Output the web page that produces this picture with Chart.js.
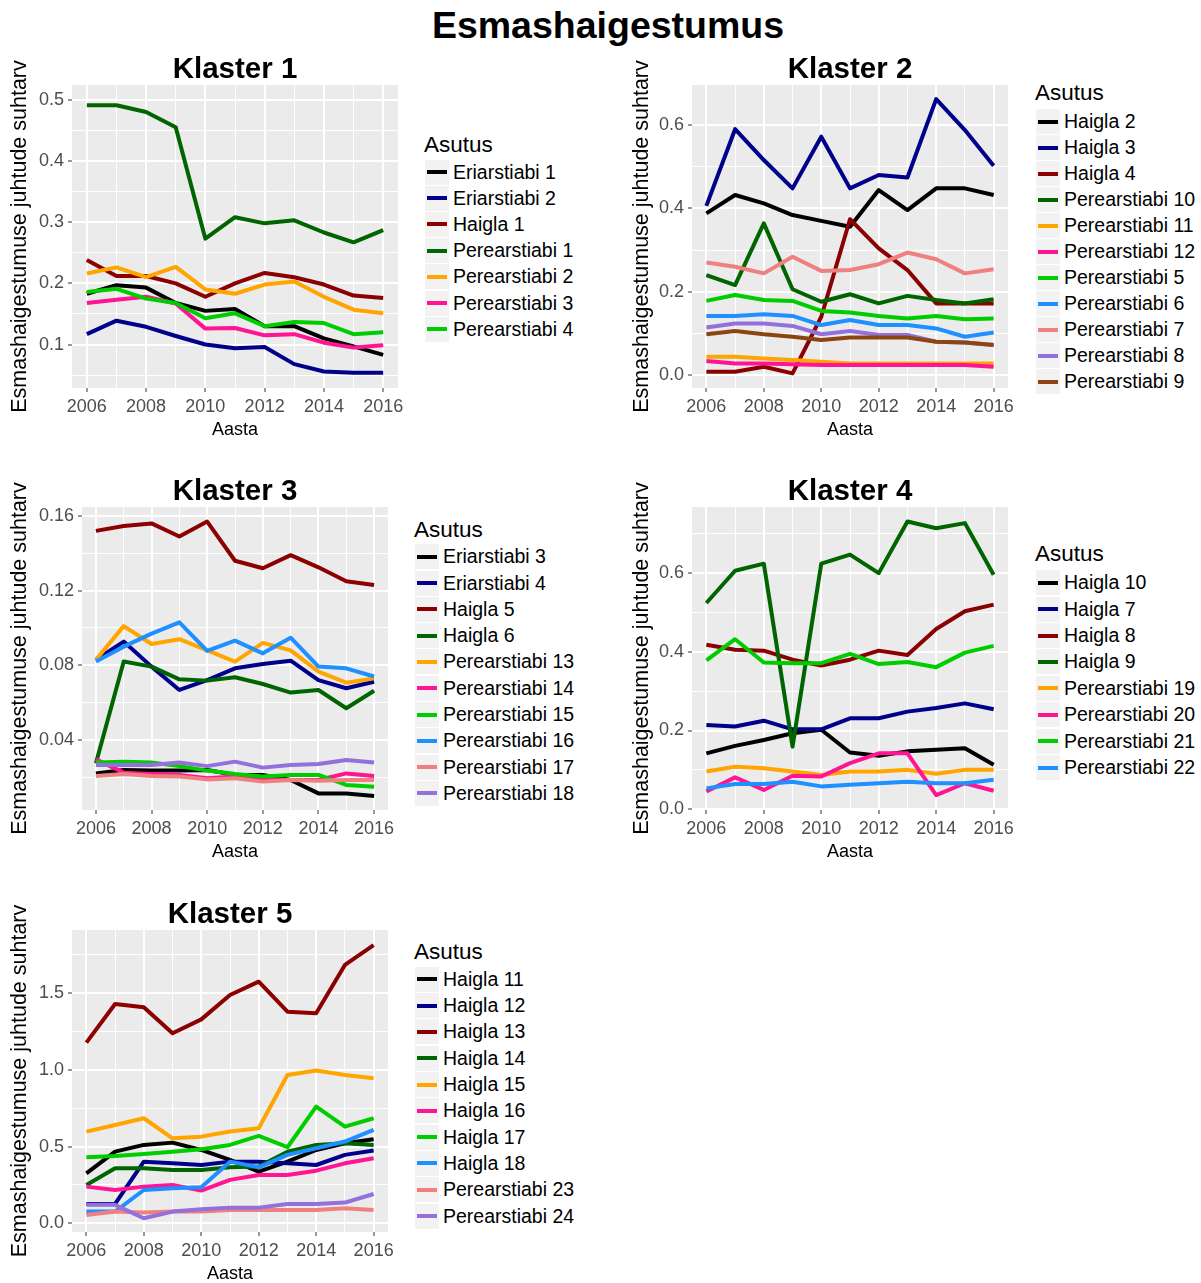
<!DOCTYPE html>
<html>
<head>
<meta charset="utf-8">
<title>Esmashaigestumus</title>
<script src="https://cdn.jsdelivr.net/npm/chart.js@4.4.1/dist/chart.umd.min.js"></script>
<style>
  body { margin: 0; background: #fff; font-family: "Liberation Sans", Arial, sans-serif; }
  #page { position: relative; width: 1201px; height: 1283px; overflow: hidden; }
  canvas { position: absolute; }
  .txt { position: absolute; white-space: nowrap; color: #000; }
  #mainTitle { font-size: 37.5px; font-weight: bold; line-height: 38px; top: 6px; left: 608px; transform: translateX(-50%); }
  .panelTitle { font-size: 29.5px; font-weight: bold; line-height: 29px; transform: translateX(-50%); }
  .legTitle { font-size: 22.5px; line-height: 28px; }
  .legItem { position: absolute; left: 0; display: flex; align-items: center; }
  .legKey { position: relative; width: 24px; height: 25px; background: #F2F2F2; margin-right: 4px; }
  .legKey span { position: absolute; left: 2px; right: 2px; top: 10.5px; height: 4px; }
  .legLabel { font-size: 19.5px; }
</style>
</head>
<body>
<div id="page">
  <div id="mainTitle" class="txt">Esmashaigestumus</div>
</div>
<script>
const years = [2006, 2007, 2008, 2009, 2010, 2011, 2012, 2013, 2014, 2015, 2016];

// Klaster 1
const k1Names = ['Eriarstiabi 1', 'Eriarstiabi 2', 'Haigla 1', 'Perearstiabi 1', 'Perearstiabi 2', 'Perearstiabi 3', 'Perearstiabi 4'];
const k1Values = [
    [0.183, 0.197, 0.193, 0.168, 0.155, 0.158, 0.130, 0.130, 0.110, 0.097, 0.083],
    [0.117, 0.139, 0.129, 0.114, 0.100, 0.094, 0.096, 0.068, 0.056, 0.054, 0.054],
    [0.238, 0.212, 0.212, 0.200, 0.178, 0.200, 0.217, 0.210, 0.198, 0.180, 0.176],
    [0.491, 0.491, 0.480, 0.455, 0.273, 0.308, 0.298, 0.303, 0.283, 0.267, 0.287],
    [0.216, 0.226, 0.210, 0.227, 0.190, 0.183, 0.198, 0.203, 0.178, 0.157, 0.151],
    [0.168, 0.173, 0.178, 0.167, 0.126, 0.127, 0.115, 0.117, 0.103, 0.095, 0.099],
    [0.186, 0.191, 0.175, 0.168, 0.143, 0.151, 0.130, 0.137, 0.135, 0.117, 0.120]
];

// Klaster 2
const k2Names = ['Haigla 2', 'Haigla 3', 'Haigla 4', 'Perearstiabi 10', 'Perearstiabi 11', 'Perearstiabi 12', 'Perearstiabi 5', 'Perearstiabi 6', 'Perearstiabi 7', 'Perearstiabi 8', 'Perearstiabi 9'];
const k2Values = [
    [0.388, 0.432, 0.412, 0.384, 0.370, 0.356, 0.444, 0.396, 0.448, 0.448, 0.432],
    [0.406, 0.590, 0.516, 0.448, 0.572, 0.448, 0.480, 0.474, 0.662, 0.588, 0.502],
    [0.008, 0.008, 0.020, 0.004, 0.140, 0.374, 0.304, 0.252, 0.172, 0.172, 0.172],
    [0.240, 0.216, 0.364, 0.206, 0.176, 0.194, 0.172, 0.190, 0.180, 0.172, 0.182],
    [0.044, 0.044, 0.040, 0.036, 0.032, 0.028, 0.028, 0.028, 0.028, 0.028, 0.028],
    [0.034, 0.028, 0.028, 0.026, 0.024, 0.024, 0.024, 0.024, 0.024, 0.024, 0.020],
    [0.178, 0.192, 0.180, 0.178, 0.154, 0.150, 0.142, 0.136, 0.142, 0.134, 0.136],
    [0.142, 0.142, 0.146, 0.142, 0.120, 0.132, 0.120, 0.120, 0.112, 0.092, 0.102],
    [0.270, 0.260, 0.244, 0.284, 0.250, 0.252, 0.266, 0.294, 0.278, 0.244, 0.254],
    [0.114, 0.124, 0.124, 0.118, 0.098, 0.106, 0.096, 0.096, 0.080, 0.078, 0.072],
    [0.098, 0.106, 0.098, 0.092, 0.084, 0.090, 0.090, 0.090, 0.080, 0.078, 0.072]
];

// Klaster 3
const k3Names = ['Eriarstiabi 3', 'Eriarstiabi 4', 'Haigla 5', 'Haigla 6', 'Perearstiabi 13', 'Perearstiabi 14', 'Perearstiabi 15', 'Perearstiabi 16', 'Perearstiabi 17', 'Perearstiabi 18'];
const k3Values = [
    [0.0221, 0.0239, 0.0236, 0.0236, 0.0239, 0.0213, 0.0213, 0.0186, 0.0114, 0.0114, 0.0100],
    [0.0830, 0.0927, 0.0793, 0.0668, 0.0721, 0.0784, 0.0807, 0.0825, 0.0721, 0.0677, 0.0712],
    [0.1520, 0.1546, 0.1560, 0.1490, 0.1570, 0.1360, 0.1320, 0.1390, 0.1325, 0.1250, 0.1230],
    [0.0275, 0.0820, 0.0793, 0.0725, 0.0718, 0.0736, 0.0700, 0.0654, 0.0668, 0.0570, 0.0664],
    [0.0830, 0.1010, 0.0914, 0.0940, 0.0880, 0.0820, 0.0920, 0.0880, 0.0766, 0.0707, 0.0730],
    [0.0296, 0.0225, 0.0218, 0.0213, 0.0195, 0.0204, 0.0186, 0.0186, 0.0186, 0.0221, 0.0207],
    [0.0280, 0.0284, 0.0280, 0.0260, 0.0236, 0.0218, 0.0204, 0.0213, 0.0213, 0.0159, 0.0150],
    [0.0820, 0.0900, 0.0970, 0.1030, 0.0877, 0.0932, 0.0864, 0.0948, 0.0793, 0.0784, 0.0740],
    [0.0207, 0.0218, 0.0207, 0.0204, 0.0189, 0.0195, 0.0177, 0.0186, 0.0182, 0.0186, 0.0186],
    [0.0266, 0.0266, 0.0266, 0.0279, 0.0260, 0.0284, 0.0252, 0.0266, 0.0271, 0.0293, 0.0279]
];

// Klaster 4
const k4Names = ['Haigla 10', 'Haigla 7', 'Haigla 8', 'Haigla 9', 'Perearstiabi 19', 'Perearstiabi 20', 'Perearstiabi 21', 'Perearstiabi 22'];
const k4Values = [
    [0.142, 0.161, 0.176, 0.193, 0.202, 0.144, 0.136, 0.147, 0.151, 0.155, 0.113],
    [0.214, 0.210, 0.225, 0.203, 0.203, 0.231, 0.231, 0.248, 0.257, 0.269, 0.254],
    [0.418, 0.405, 0.403, 0.380, 0.365, 0.380, 0.403, 0.392, 0.458, 0.503, 0.520],
    [0.524, 0.606, 0.624, 0.159, 0.624, 0.647, 0.600, 0.731, 0.714, 0.727, 0.596],
    [0.096, 0.108, 0.104, 0.096, 0.087, 0.096, 0.096, 0.100, 0.090, 0.100, 0.100],
    [0.045, 0.081, 0.049, 0.085, 0.083, 0.117, 0.142, 0.142, 0.036, 0.066, 0.047],
    [0.378, 0.432, 0.373, 0.371, 0.371, 0.395, 0.369, 0.374, 0.361, 0.398, 0.415],
    [0.053, 0.064, 0.064, 0.070, 0.058, 0.062, 0.066, 0.070, 0.066, 0.066, 0.075]
];

// Klaster 5
const k5Names = ['Haigla 11', 'Haigla 12', 'Haigla 13', 'Haigla 14', 'Haigla 15', 'Haigla 16', 'Haigla 17', 'Haigla 18', 'Perearstiabi 23', 'Perearstiabi 24'];
const k5Values = [
    [0.326, 0.467, 0.511, 0.526, 0.478, 0.413, 0.337, 0.402, 0.478, 0.522, 0.548],
    [0.126, 0.126, 0.402, 0.391, 0.380, 0.402, 0.402, 0.391, 0.380, 0.446, 0.474],
    [1.178, 1.430, 1.409, 1.239, 1.330, 1.489, 1.576, 1.380, 1.370, 1.685, 1.815],
    [0.250, 0.359, 0.359, 0.348, 0.348, 0.365, 0.370, 0.467, 0.511, 0.522, 0.511],
    [0.598, 0.641, 0.685, 0.554, 0.565, 0.598, 0.620, 0.967, 0.996, 0.967, 0.946],
    [0.239, 0.217, 0.239, 0.250, 0.213, 0.283, 0.315, 0.315, 0.343, 0.391, 0.424],
    [0.430, 0.439, 0.452, 0.467, 0.483, 0.511, 0.570, 0.496, 0.761, 0.630, 0.685],
    [0.076, 0.076, 0.217, 0.228, 0.235, 0.402, 0.365, 0.446, 0.489, 0.533, 0.609],
    [0.054, 0.076, 0.070, 0.076, 0.076, 0.087, 0.087, 0.087, 0.087, 0.098, 0.087],
    [0.120, 0.120, 0.033, 0.076, 0.091, 0.102, 0.102, 0.126, 0.126, 0.135, 0.191]
];

const palette = ['#000000', '#00008B', '#8B0000', '#006400', '#FFA500', '#FF1493', '#00CD00', '#1E90FF', '#F08080', '#9370DB', '#8B4513'];

// plot box (L,T,R,B), canvas left, y range and tick steps, legend spot
const panels = [
    { title: 'Klaster 1', names: k1Names, values: k1Values, L: 72, T: 85, R: 398, B: 388, cLeft: 0,
      yMin: 0.029, yMax: 0.524, minor: 0.05, major: 0.1, dec: 1, legX: 425, legTitleY: 145, legFirstY: 172, legStep: 26.2 },
    { title: 'Klaster 2', names: k2Names, values: k2Values, L: 692, T: 85, R: 1008, B: 388, cLeft: 622,
      yMin: -0.031, yMax: 0.696, minor: 0.1, major: 0.2, dec: 1, legX: 1036, legTitleY: 93, legFirstY: 121.5, legStep: 26.0 },
    { title: 'Klaster 3', names: k3Names, values: k3Values, L: 82, T: 507, R: 388, B: 810, cLeft: 0,
      yMin: 0.0025, yMax: 0.1648, minor: 0.02, major: 0.04, dec: 2, legX: 415, legTitleY: 529.5, legFirstY: 556.7, legStep: 26.3 },
    { title: 'Klaster 4', names: k4Names, values: k4Values, L: 692, T: 507, R: 1008, B: 810, cLeft: 622,
      yMin: -0.002, yMax: 0.768, minor: 0.1, major: 0.2, dec: 1, legX: 1036, legTitleY: 554, legFirstY: 582.7, legStep: 26.4 },
    { title: 'Klaster 5', names: k5Names, values: k5Values, L: 72, T: 930, R: 388, B: 1232, cLeft: 0,
      yMin: -0.057, yMax: 1.913, minor: 0.25, major: 0.5, dec: 1, legX: 415, legTitleY: 951.5, legFirstY: 979.3, legStep: 26.3 }
];

Chart.defaults.font.family = '"Liberation Sans", Arial, sans-serif';

const page = document.getElementById('page');
const topPad = 45;

const panelBg = {
    id: 'panelBg',
    beforeDraw(chart) {
        const { ctx, chartArea: a } = chart;
        ctx.save();
        ctx.fillStyle = '#EBEBEB';
        ctx.fillRect(a.left, a.top, a.right - a.left, a.bottom - a.top);
        ctx.restore();
    }
};

function onStep(v, step) {
    const r = v / step;
    return Math.abs(r - Math.round(r)) < 1e-6;
}

function addText(cls, text, left, top) {
    const d = document.createElement('div');
    d.className = 'txt ' + cls;
    d.textContent = text;
    d.style.left = left + 'px';
    d.style.top = top + 'px';
    page.appendChild(d);
    return d;
}

function makeLegend(p) {
    addText('legTitle', 'Asutus', p.legX - 1, p.legTitleY - 14);
    p.names.forEach((name, i) => {
        const item = document.createElement('div');
        item.className = 'legItem';
        item.style.left = p.legX + 'px';
        item.style.top = (p.legFirstY + i * p.legStep - 12.5) + 'px';
        item.innerHTML = `<div class="legKey"><span style="background:${palette[i]}"></span></div><div class="legLabel">${name}</div>`;
        page.appendChild(item);
    });
}

function makePanel(p) {
    const canvas = document.createElement('canvas');
    const cTop = p.T - topPad;
    canvas.width = p.R + 12 - p.cLeft;
    canvas.height = p.B + 57 - cTop;
    canvas.style.left = p.cLeft + 'px';
    canvas.style.top = cTop + 'px';
    page.appendChild(canvas);

    addText('panelTitle', p.title, (p.L + p.R) / 2, p.T - 18 - 14.5);

    const datasets = p.names.map((name, i) => ({
        label: name,
        data: years.map((yr, j) => ({ x: yr, y: p.values[i][j] })),
        borderColor: palette[i],
        backgroundColor: palette[i],
        borderWidth: 4,
        borderJoinStyle: 'round',
        pointRadius: 0,
        tension: 0,
        fill: false,
        order: p.names.length - i
    }));

    new Chart(canvas.getContext('2d'), {
        type: 'line',
        data: { datasets },
        options: {
            responsive: false,
            animation: false,
            layout: { padding: { top: topPad, right: 12, left: 0, bottom: 0 } },
            plugins: { legend: { display: false }, tooltip: { enabled: false } },
            scales: {
                x: {
                    type: 'linear',
                    bounds: 'data',
                    min: 2005.5,
                    max: 2016.5,
                    afterBuildTicks: s => { s.ticks = years.map(v => ({ value: v })); },
                    afterFit: s => { s.height = 57; },
                    ticks: {
                        autoSkip: false,
                        maxRotation: 0,
                        padding: 4,
                        color: '#4D4D4D',
                        font: { size: 18 },
                        callback: v => (v % 2 === 0 ? String(v) : '')
                    },
                    grid: {
                        color: '#FFFFFF',
                        lineWidth: c => (c.tick && c.tick.value % 2 === 0 ? 2 : 1),
                        tickLength: 4,
                        tickWidth: 1,
                        tickColor: c => (c.tick && c.tick.value % 2 === 0 ? '#333333' : 'rgba(0,0,0,0)')
                    },
                    border: { display: false },
                    title: { display: true, text: 'Aasta', color: '#000', font: { size: 18 }, padding: { top: 0, bottom: 4 } }
                },
                y: {
                    type: 'linear',
                    bounds: 'data',
                    min: p.yMin,
                    max: p.yMax,
                    afterBuildTicks: s => {
                        const t = [];
                        for (let k = Math.ceil(p.yMin / p.minor - 1e-9); k * p.minor <= p.yMax + 1e-9; k++) {
                            t.push({ value: +(k * p.minor).toFixed(6) });
                        }
                        s.ticks = t;
                    },
                    afterFit: s => { s.width = p.L - p.cLeft; },
                    ticks: {
                        autoSkip: false,
                        padding: 4,
                        color: '#4D4D4D',
                        font: { size: 18 },
                        callback: v => (onStep(v, p.major) ? v.toFixed(p.dec) : '')
                    },
                    grid: {
                        color: '#FFFFFF',
                        lineWidth: c => (c.tick && onStep(c.tick.value, p.major) ? 2 : 1),
                        tickLength: 4,
                        tickWidth: 1,
                        tickColor: c => (c.tick && onStep(c.tick.value, p.major) ? '#333333' : 'rgba(0,0,0,0)')
                    },
                    border: { display: false },
                    title: { display: true, text: 'Esmashaigestumuse juhtude suhtarv', color: '#000', font: { size: 21.5 }, padding: { top: 7, bottom: 0 } }
                }
            }
        },
        plugins: [panelBg]
    });

    makeLegend(p);
}

panels.forEach(makePanel);
</script>
</body>
</html>
